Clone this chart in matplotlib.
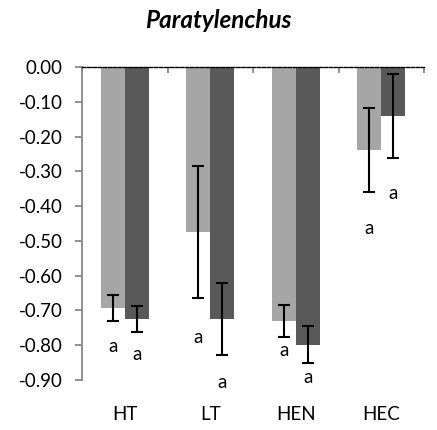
import matplotlib
import numpy as np

matplotlib.use("Agg")
import matplotlib.pyplot as plt  # noqa: E402
from matplotlib.transforms import blended_transform_factory  # noqa: E402

plt.rcParams["font.family"] = ["Lato", "DejaVu Sans"]

categories = ["HT", "LT", "HEN", "HEC"]
light_values = [-0.694, -0.475, -0.729, -0.239]
light_errors = [0.037, 0.190, 0.046, 0.120]
dark_values = [-0.725, -0.725, -0.798, -0.140]
dark_errors = [0.037, 0.103, 0.053, 0.121]
light_letters = ["a", "a", "a", "a"]
dark_letters = ["a", "a", "a", "a"]
light_letter_y = [-0.804, -0.777, -0.816, -0.464]
dark_letter_y = [-0.828, -0.908, -0.892, -0.363]
y_ticks = [0.0, -0.1, -0.2, -0.3, -0.4, -0.5, -0.6, -0.7, -0.8, -0.9]

LIGHT = "#a6a6a6"
DARK = "#595959"
AXIS_GRAY = "#898989"
FS = 13.5


def main() -> None:
    fig = plt.figure(figsize=(4.37, 4.30), dpi=100)
    ax = fig.add_axes([82 / 437, 1 - 380 / 430, (424 - 82) / 437, (380 - 67) / 430])

    x = np.arange(len(categories))
    width = 0.28
    err_kw = dict(ecolor="black", elinewidth=1.5, capsize=4.5, capthick=1.5)
    ax.bar(x - width / 2, light_values, width, color=LIGHT, yerr=light_errors, error_kw=err_kw, zorder=2)
    ax.bar(x + width / 2, dark_values, width, color=DARK, yerr=dark_errors, error_kw=err_kw, zorder=2)

    for i in range(len(categories)):
        ax.text(x[i] - width / 2, light_letter_y[i], light_letters[i], ha="center", va="center",
                fontsize=FS, clip_on=False)
        ax.text(x[i] + width / 2, dark_letter_y[i], dark_letters[i], ha="center", va="center",
                fontsize=FS, clip_on=False)

    ax.set_xlim(-0.5, len(categories) - 0.5)
    ax.set_ylim(-0.9, 0.0)
    ax.set_yticks(y_ticks)
    ax.set_yticklabels([f"{v:.2f}" for v in y_ticks], fontsize=FS)

    ax.spines["top"].set_visible(False)
    ax.spines["right"].set_visible(False)
    ax.spines["left"].set_color(AXIS_GRAY)
    ax.spines["left"].set_linewidth(1.3)
    ax.spines["bottom"].set_position(("data", 0.0))
    ax.spines["bottom"].set_color("black")
    ax.spines["bottom"].set_linestyle((0, (2.5, 1.2)))
    ax.spines["bottom"].set_linewidth(1.0)
    ax.spines["bottom"].set_zorder(3)

    ax.set_xticks(np.arange(len(categories) + 1) - 0.5)
    ax.set_xticklabels([])
    ax.tick_params(axis="x", direction="out", length=4.5, color=AXIS_GRAY, width=1.3)
    ax.tick_params(axis="y", direction="out", length=5, color=AXIS_GRAY, width=1.3, pad=9)

    trans = blended_transform_factory(ax.transData, fig.transFigure)
    for i, name in enumerate(categories):
        ax.text(x[i], 1 - 415 / 430, name, transform=trans, ha="center", va="center", fontsize=FS)

    fig.text(0.5, 1 - 20 / 430, "Paratylenchus", ha="center", va="center",
             fontsize=17.5, fontweight="bold", fontstyle="italic")

    fig.savefig("out.png", dpi=100)
    plt.close(fig)


if __name__ == "__main__":
    main()
